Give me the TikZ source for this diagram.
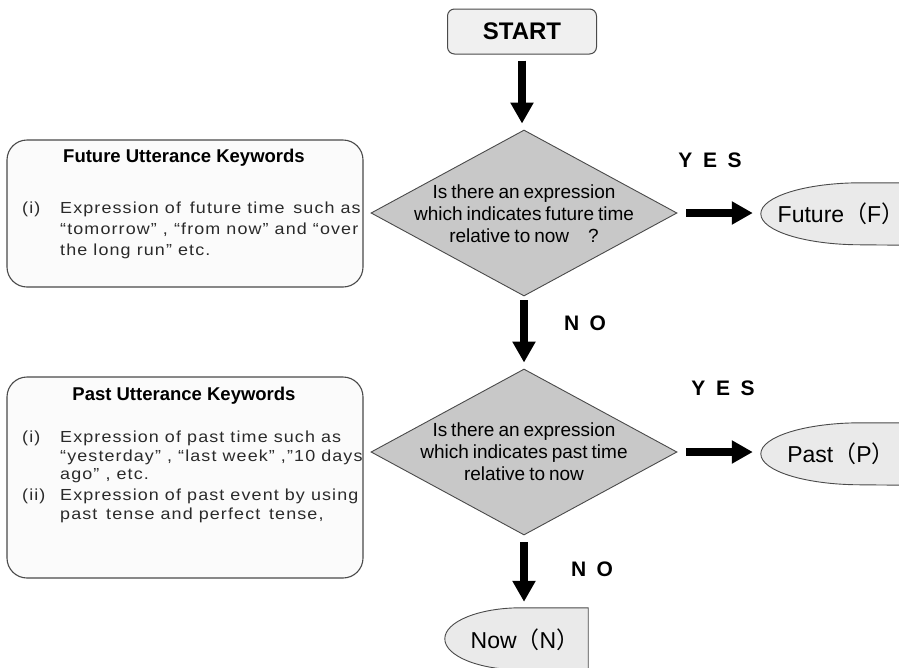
\documentclass[tikz,border=0pt]{standalone}
\usepackage{fontspec}
\setmainfont{Liberation Sans}
\newfontfamily\cjk{Noto Sans CJK JP}
\newfontfamily\listfont[FakeStretch=1.12,LetterSpace=7]{Liberation Sans}
\newfontfamily\diafont[WordSpace=0.75]{Liberation Sans}
\usetikzlibrary{arrows.meta,shapes.geometric,backgrounds,calc}
\definecolor{edgegray}{HTML}{4A4A4A}
\definecolor{diafill}{HTML}{C8C8C8}
\definecolor{termfill}{HTML}{EAEAEA}
\definecolor{boxfill}{HTML}{FBFBFB}
\definecolor{startfill}{HTML}{F0F0F0}
\definecolor{listcol}{HTML}{2A2A2A}
\begin{document}
\begin{tikzpicture}[x=1pt,y=-1pt,
  bigarrow/.style={line width=8pt,-{Triangle[length=21pt,width=22pt]}},
  decision/.style={diamond,draw=edgegray,fill=diafill,line width=0.9pt,inner sep=0pt,minimum width=306pt,minimum height=166pt},
  dtext/.style={align=center,font=\fontsize{19}{22}\diafont,inner sep=0pt},
  keybox/.style={draw=edgegray,fill=boxfill,line width=1.1pt,rounded corners=20pt},
  keytitle/.style={font=\fontsize{18.5}{22}\selectfont\bfseries,inner sep=0pt},
  listline/.style={anchor=west,inner sep=0pt,text=listcol,font=\fontsize{16}{18}\listfont},
  termnode/.style={minimum width=143pt,minimum height=62pt,inner sep=0pt},
  termshape/.style={draw=edgegray,fill=termfill,line width=0.9pt},
  termtext/.style={font=\fontsize{23}{26}\selectfont,inner sep=0pt},
  yesno/.style={font=\fontsize{21}{24}\selectfont\bfseries,inner sep=0pt}]
\useasboundingbox (0,0) rectangle (899,667);
\clip (0,0) rectangle (899,667);

% START
\node[draw=edgegray,fill=startfill,line width=1pt,rounded corners=7pt,minimum width=149pt,minimum height=45pt,inner sep=0pt,font=\fontsize{24}{26}\selectfont\bfseries] (start) at (522,31.5) {START};

% decisions
\node[decision] (d1) at (524,213) {};
\node[dtext] (d1t) at (524,214) {Is there an expression\\which indicates future time\\relative to now\quad ?};
\node[decision] (d2) at (524,452) {};
\node[dtext] (d2t) at (524,452) {Is there an expression\\which indicates past time\\relative to now};

% terminals
\node[termnode] (fut) at (832.5,214) {};
\node[termnode] (past) at (832.5,454) {};
\node[termnode] (now) at (516.5,639) {};
\begin{scope}[on background layer]
\fill[white] (0,0) rectangle (899,667);
\foreach \t/\r in {fut/100,past/100,now/76}{
  \draw[termshape] (\t.north east) -- ($(\t.north west)+(\r,0)$)
    arc[start angle=90,end angle=270,x radius=\r pt,y radius=31pt] -- (\t.south east) -- cycle;
}
\end{scope}
\node[termtext] (futt) at (841,214) {Future{\cjk （}F{\cjk ）}};
\node[termtext] (pastt) at (841,454) {Past{\cjk （}P{\cjk ）}};
\node[termtext] (nowt) at (525,640) {Now{\cjk （}N{\cjk ）}};

% arrows
\draw[bigarrow,shorten <=6pt,shorten >=6pt] (start.south) -- (start.south |- d1.north);
\draw[bigarrow,shorten <=4pt,shorten >=6pt] (d1.south) -- (d2.north);
\draw[bigarrow,shorten <=7pt,shorten >=6pt] (d2.south) -- (d2.south |- now.north);
\draw[bigarrow,shorten <=9pt,shorten >=8pt] (d1.east) -- (d1.east -| fut.west);
\draw[bigarrow,shorten <=9pt,shorten >=8pt] (d2.east) -- (d2.east -| past.west);

% yes/no labels
\node[yesno] (yes1) at (710,160) {Y\,\,\,E\,\,\,S};
\node[yesno] (yes2) at (723,388) {Y\,\,\,E\,\,\,S};
\node[yesno] (no1) at (585,323) {N\,\,\,O};
\node[yesno] (no2) at (592,569) {N\,\,\,O};

% keyword boxes
\draw[keybox] (7,140) rectangle (363,287);
\node[keytitle] (ft) at (184,158) {Future Utterance Keywords};
\node[listline] (f0) at (22,209) {(i)};
\node[listline] (f1) at (60,209) {Expression of\, future time\, such as};
\node[listline] (f2) at (60,230) {“tomorrow” , “from now” and “over};
\node[listline] (f3) at (60,251) {the long run” etc.};

\draw[keybox] (7,377) rectangle (363,578);
\node[keytitle] (pt) at (184,396) {Past Utterance Keywords};
\node[listline] (p0) at (22,438) {(i)};
\node[listline] (p1) at (60,438) {Expression of past time such as};
\node[listline] (p2) at (60,457) {“yesterday” , “last week” ,”10 days};
\node[listline] (p3) at (60,476) {ago” , etc.};
\node[listline] (p4) at (22,496) {(ii)};
\node[listline] (p5) at (60,496) {Expression of past event by using};
\node[listline] (p6) at (60,515) {past\, tense and perfect\, tense,};
\end{tikzpicture}
\end{document}
